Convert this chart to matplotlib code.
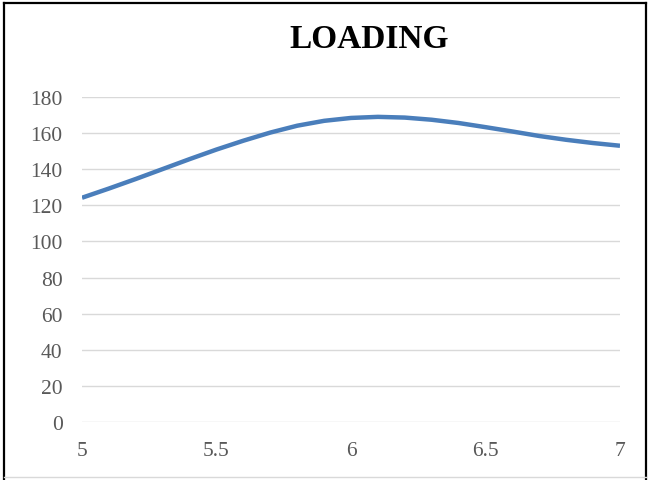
import matplotlib
matplotlib.use("Agg")
import matplotlib.pyplot as plt
from matplotlib.lines import Line2D

# values
x_vals = [5.0, 5.1, 5.2, 5.3, 5.4, 5.5, 5.6, 5.7, 5.8, 5.9, 6.0,
          6.1, 6.2, 6.3, 6.4, 6.5, 6.6, 6.7, 6.8, 6.9, 7.0]
loading = [124.2, 129.3, 134.6, 140.1, 145.6, 150.9, 155.8, 160.3, 164.1, 166.8, 168.4,
           169.0, 168.6, 167.4, 165.6, 163.3, 160.9, 158.4, 156.3, 154.5, 153.0]
x_ticks = [5, 5.5, 6, 6.5, 7]
x_labels = ["5", "5.5", "6", "6.5", "7"]
y_ticks = list(range(0, 181, 20))

plt.rcParams['font.family'] = ['Liberation Serif', 'DejaVu Serif']

fig = plt.figure(figsize=(6.5, 4.81), dpi=100)
ax = fig.add_axes([82/650, 1 - 423/481, (620-82)/650, (423-98)/481])

ax.plot(x_vals, loading, color='#4A7EBB', lw=3.2, solid_capstyle='butt', zorder=3)

ax.set_xlim(5, 7)
ax.set_ylim(0, 180)
ax.set_xticks(x_ticks)
ax.set_xticklabels(x_labels)
ax.set_yticks(y_ticks)
ax.grid(axis='y', color='#D9D9D9', lw=1)
ax.set_axisbelow(True)
for s in ax.spines.values():
    s.set_visible(False)
ax.tick_params(axis='both', length=0, labelsize=15.5, colors='#595959')
ax.tick_params(axis='y', pad=14)
ax.tick_params(axis='x', pad=14)

fig.text(369/650, 1 - 40/481, "LOADING", ha='center', va='center',
         fontsize=24, fontweight='bold', color='black')

# outer frame
fig.add_artist(Line2D([4/650, 4/650], [0, 1 - 4/481], transform=fig.transFigure, color='black', lw=1.6))
fig.add_artist(Line2D([4/650, 646/650], [1 - 4/481, 1 - 4/481], transform=fig.transFigure, color='black', lw=1.6))
fig.add_artist(Line2D([646/650, 646/650], [0, 1 - 4/481], transform=fig.transFigure, color='black', lw=1.6))
fig.add_artist(Line2D([4/650, 646/650], [3/481, 3/481], transform=fig.transFigure, color='#D9D9D9', lw=1))

fig.savefig("out.png", dpi=100)
